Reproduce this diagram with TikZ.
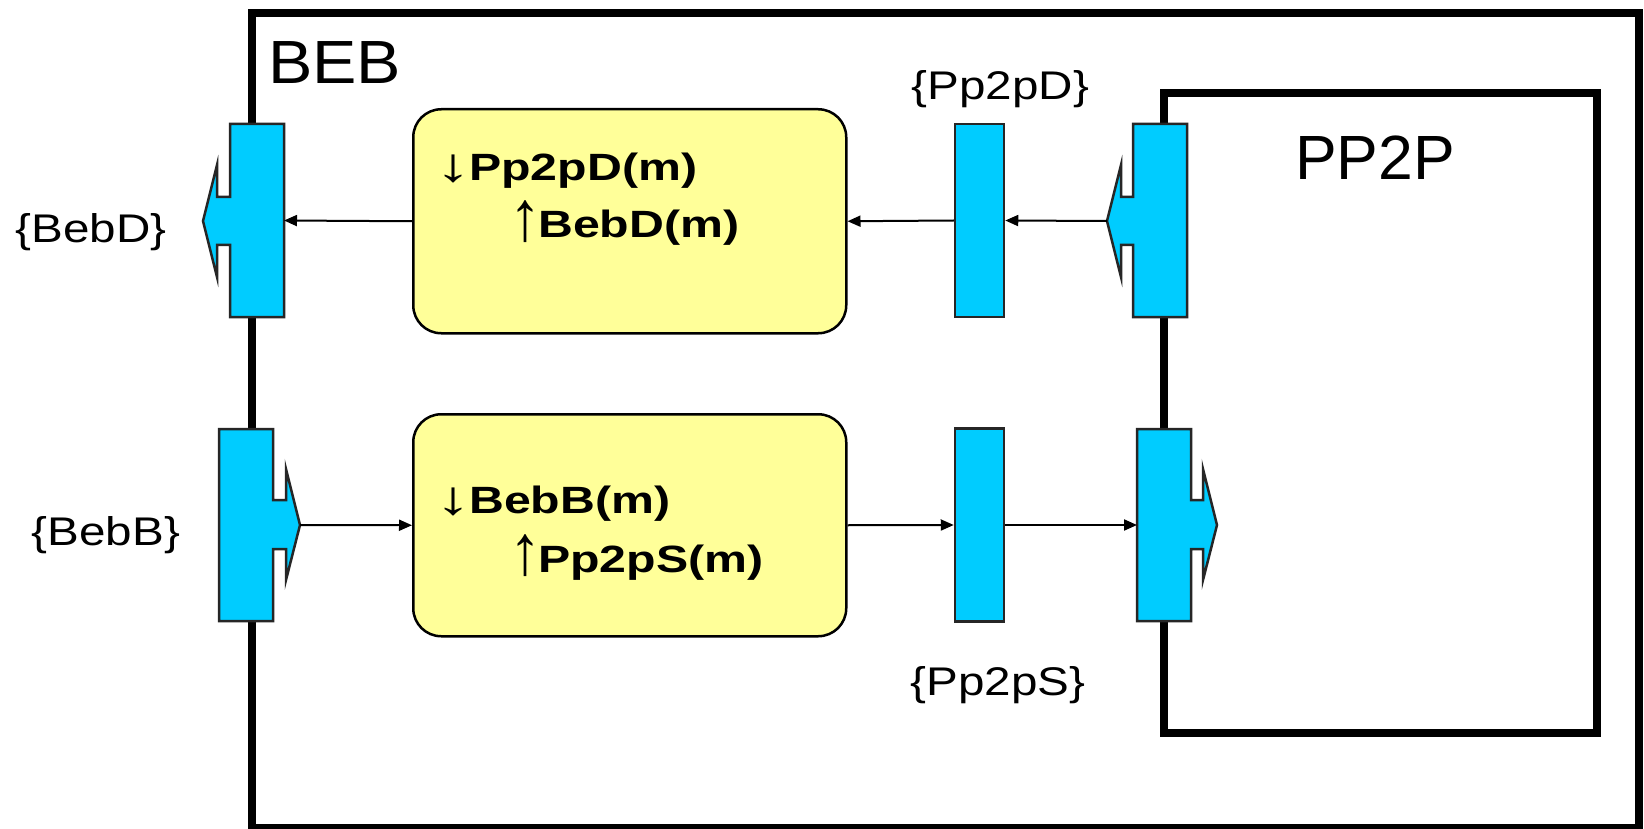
\documentclass[tikz,border=0pt]{standalone}
\usepackage{fontspec}
\setmainfont{Liberation Sans}
\usetikzlibrary{arrows.meta}
\definecolor{portcyan}{RGB}{0,204,255}
\definecolor{boxyellow}{RGB}{255,255,153}
\newcommand{\mydown}{\makebox[22pt][c]{\raisebox{-1pt}{\resizebox*{36pt}{28pt}{\mdseries ↓}}}}
\newcommand{\myup}{\makebox[22pt][c]{\raisebox{-2pt}{\resizebox*{32pt}{42pt}{\mdseries ↑}}}}
\begin{document}
\begin{tikzpicture}[x=1pt,y=-1pt,
  frame/.style={line width=8pt},
  portshape/.style={fill=portcyan, draw=black!85, line width=2.5pt, line join=miter},
  proc/.style={draw=black, line width=2.5pt, fill=boxyellow, rounded corners=28pt, inner sep=0pt},
  midport/.style={fill=portcyan, draw=black!85, line width=2.5pt, inner sep=0pt, minimum width=49pt, minimum height=193pt},
  conn/.style={line width=2pt, -{Triangle[length=13pt,width=11pt]}},
  anchorbox/.style={inner sep=0pt, outer sep=0pt, draw=none, minimum width=54pt, minimum height=193pt},
  lbl/.style={inner sep=0pt, anchor=base west, font=\fontsize{40}{48}\selectfont},
  boldtxt/.style={inner sep=0pt, anchor=base west, font=\fontsize{38}{46}\selectfont\bfseries},
  title/.style={inner sep=0pt, anchor=base west},
]
\useasboundingbox (0,0) rectangle (1644,829);
\fill[white] (0,0) rectangle (1644,829);
% frames
\draw[frame] (252,13) rectangle (1638.5,828);
\draw[frame] (1163.5,93) rectangle (1596.5,733);
% processing boxes
\node[proc, minimum width=433pt, minimum height=224pt, anchor=north west] (ptd) at (412,108) {};
\node[proc, minimum width=433pt, minimum height=222pt, anchor=north west] (ptb) at (412,413) {};
% middle ports
\node[midport] (mD) at (979.5,220.5) {};
\node[midport] (mS) at (979.5,525) {};
% port: BEB deliver (out, left)
\draw[portshape] (284,124) -- (230,124) -- (230,197) -- (217,197) -- (217,165) -- (203,221)
  -- (217,277) -- (217,245) -- (230,245) -- (230,317) -- (284,317) -- cycle;
\node[anchorbox] (pBebD) at (257,220.5) {};
% port: PP2P deliver (out, left)
\draw[portshape] (1187,124) -- (1133,124) -- (1133,197) -- (1121,197) -- (1121,165) -- (1107,221)
  -- (1121,277) -- (1121,245) -- (1133,245) -- (1133,317) -- (1187,317) -- cycle;
\node[anchorbox] (pPD) at (1160,220.5) {};
\coordinate (pPDtip) at (1107,221);
% port: BEB broadcast (in, right)
\draw[portshape] (219,429) -- (273,429) -- (273,500) -- (286,500) -- (286,469) -- (300,525)
  -- (286,580) -- (286,549) -- (273,549) -- (273,621) -- (219,621) -- cycle;
\node[anchorbox] (pBebB) at (246,525) {};
\coordinate (pBBtip) at (300,525);
% port: PP2P send (right)
\draw[portshape] (1137,429) -- (1191,429) -- (1191,500) -- (1203,500) -- (1203,469) -- (1217,525)
  -- (1203,580) -- (1203,549) -- (1191,549) -- (1191,621) -- (1137,621) -- cycle;
\node[anchorbox] (pPS) at (1164,525) {};
% connectors
\draw[conn] (ptd.west) -- (pBebD.east);
\draw[conn] (mD.west) -- (ptd.east);
\draw[conn] (pPDtip) -- (mD.east);
\draw[conn] (pBBtip) -- (ptb.west);
\draw[conn] (ptb.east) -- (mS.west);
\draw[conn] (mS.east) -- (pPS.west);
% titles
\node[title, font=\fontsize{61}{70}\selectfont] (tBEB) at (268,84) {\scalebox{1.09}[1]{BEB}};
\node[title, font=\fontsize{62.5}{72}\selectfont] (tPP) at (1295,180) {PP2P};
% labels
\node[lbl] (lBebD) at (15.5,243) {\scalebox{1.19}[1]{\{BebD\}}};
\node[lbl] (lBebB) at (31.5,545) {\scalebox{1.19}[1]{\{BebB\}}};
\node[lbl] (lPD) at (911.5,100) {\scalebox{1.19}[1]{\{Pp2pD\}}};
\node[lbl] (lPS) at (910.5,695) {\scalebox{1.19}[1]{\{Pp2pS\}}};
% box texts
\node[boldtxt] (t1a) at (442,181) {\mydown\kern5pt\scalebox{1.27}[1]{Pp2pD(m)}};
\node[boldtxt] (t1b) at (514,238) {\myup\kern2pt\scalebox{1.27}[1]{BebD(m)}};
\node[boldtxt] (t2a) at (442,513) {\mydown\kern5pt\scalebox{1.27}[1]{BebB(m)}};
\node[boldtxt] (t2b) at (514,572) {\myup\kern2pt\scalebox{1.27}[1]{Pp2pS(m)}};
\end{tikzpicture}
\end{document}
